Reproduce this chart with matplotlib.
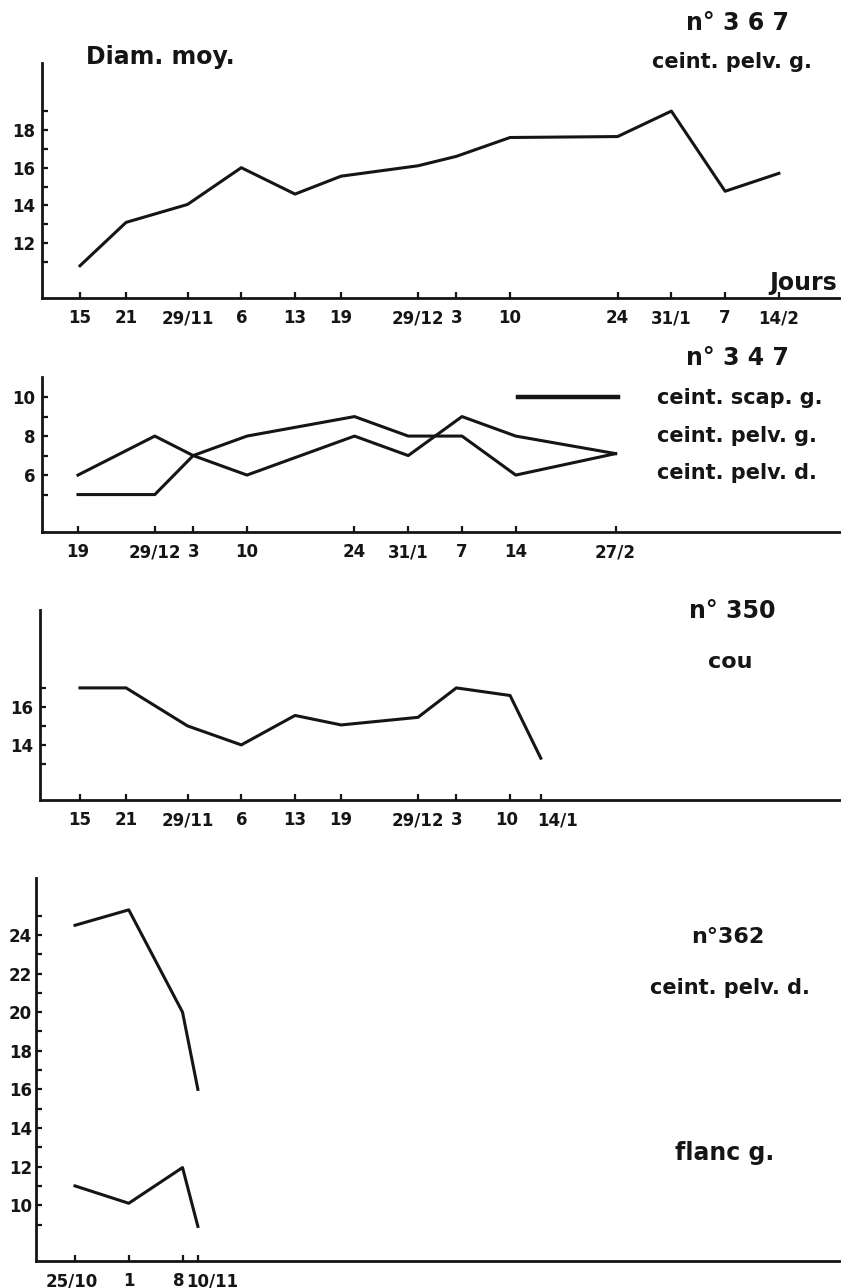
import matplotlib
matplotlib.use("Agg")
import matplotlib.pyplot as plt
import matplotlib.dates as mdates
import matplotlib.transforms as mtrans
from matplotlib.lines import Line2D
from matplotlib.ticker import FixedLocator, FixedFormatter, NullFormatter

# ---------------- data ----------------
# Panel 1 : n° 367, ceint. pelv. g.
p1_dates = ["1950-11-15", "1950-11-21", "1950-11-29", "1950-12-06", "1950-12-13",
            "1950-12-19", "1950-12-29", "1951-01-03", "1951-01-10", "1951-01-24",
            "1951-01-31", "1951-02-07", "1951-02-14"]
p1_labels = ["15", "21", "29/11", "6", "13", "19", "29/12", "3", "10", "24",
             "31/1", "7", "14/2"]
p1_values = [10.8, 13.1, 14.05, 16.0, 14.6, 15.55, 16.1, 16.6, 17.6, 17.65,
             19.0, 14.75, 15.7]
p1_yticks = [12, 14, 16, 18]
p1_yminor = [11, 13, 15, 17, 19]

# Panel 2 : n° 347
p2_dates = ["1950-12-19", "1950-12-29", "1951-01-03", "1951-01-10", "1951-01-24",
            "1951-01-31", "1951-02-07", "1951-02-14", "1951-02-27"]
p2_labels = ["19", "29/12", "3", "10", "24", "31/1", "7", "14", "27/2"]
p2_series_a = [6, 8, 7, 6, 8, 7, 9, 8, 7.1]
p2_series_b = [5, 5, 7, 8, 9, 8, 8, 6, 7.1]
p2_legend = ["ceint. scap. g.", "ceint. pelv. g.", "ceint. pelv. d."]
p2_yticks = [6, 8, 10]
p2_yminor = [5, 7, 9]

# Panel 3 : n° 350, cou
p3_dates = ["1950-11-15", "1950-11-21", "1950-11-29", "1950-12-06", "1950-12-13",
            "1950-12-19", "1950-12-29", "1951-01-03", "1951-01-10", "1951-01-14"]
p3_labels = ["15", "21", "29/11", "6", "13", "19", "29/12", "3", "10", "14/1"]
p3_values = [17.0, 17.0, 15.0, 14.0, 15.55, 15.05, 15.45, 17.0, 16.6, 13.3]
p3_yticks = [14, 16]
p3_yminor = [13, 15, 17]

# Panel 4 : n°362
p4_dates = ["1950-10-25", "1950-11-01", "1950-11-08", "1950-11-10"]
p4_labels = ["25/10", "1", "8", "10/11"]
p4_pelv_d = [24.5, 25.3, 20.0, 16.0]
p4_flanc_g = [11.0, 10.1, 11.95, 8.9]
p4_yticks = [10, 12, 14, 16, 18, 20, 22, 24]
p4_yminor = [9, 11, 13, 15, 17, 19, 21, 23, 25]

# ---------------- layout ----------------
W, H = 841, 1288
INK = "#151515"
PX_PER_DAY = 7.68
plt.rcParams["font.family"] = ["DejaVu Sans"]

fig = plt.figure(figsize=(W / 100, H / 100), dpi=100)
fig.patch.set_facecolor("white")


def fx(x):
    return x / W


def fy(y):
    return 1 - y / H


def make_axes(left, top, bottom, first_px, dates, labels, ylim, yticks, yminor, ylabpad=5):
    ax = fig.add_axes([fx(left), fy(bottom), (W - left) / W, (bottom - top) / H])
    ax.set_facecolor("none")
    xs = mdates.datestr2num(dates)
    x0 = xs[0] - (first_px - left) / PX_PER_DAY
    ax.set_xlim(x0, x0 + (W - left) / PX_PER_DAY)
    ax.set_ylim(*ylim)
    ax.xaxis.set_major_locator(FixedLocator(xs))
    ax.xaxis.set_major_formatter(FixedFormatter(labels))
    ax.yaxis.set_major_locator(FixedLocator(yticks))
    ax.yaxis.set_minor_locator(FixedLocator(yminor))
    ax.yaxis.set_minor_formatter(NullFormatter())
    for s in ("top", "right"):
        ax.spines[s].set_visible(False)
    for s in ("left", "bottom"):
        ax.spines[s].set_linewidth(2.0)
        ax.spines[s].set_color(INK)
    ax.tick_params(axis="y", which="both", direction="in", length=4, width=1.6,
                   color=INK, pad=ylabpad, labelsize=12, labelcolor=INK)
    ax.tick_params(axis="x", which="both", direction="in", length=4, width=1.6,
                   color=INK, pad=8, labelsize=12, labelcolor=INK)
    for lab in ax.get_xticklabels() + ax.get_yticklabels():
        lab.set_fontweight("bold")
    return ax, xs


def nudge_xlabel(ax, index, ha, dx_px):
    lab = ax.get_xticklabels()[index]
    lab.set_horizontalalignment(ha)
    lab.set_transform(lab.get_transform() +
                      mtrans.ScaledTranslation(dx_px / 100, 0, fig.dpi_scale_trans))


LW = 2.2

# Panel 1
ax1, x1 = make_axes(42, 63, 298, 80, p1_dates, p1_labels, (9.09, 21.55),
                    p1_yticks, p1_yminor)
ax1.plot(x1, p1_values, color=INK, lw=LW)

# Panel 2
ax2, x2 = make_axes(42, 377, 532, 78, p2_dates, p2_labels, (3.08, 11.03),
                    p2_yticks, p2_yminor)
ax2.plot(x2, p2_series_a, color=INK, lw=LW)
ax2.plot(x2, p2_series_b, color=INK, lw=LW)
handles = [Line2D([], [], color=INK, lw=3.2),
           Line2D([], [], color="none"),
           Line2D([], [], color="none")]
leg = ax2.legend(handles, p2_legend, loc="center left",
                 bbox_to_anchor=(fx(518), fy(436)), bbox_transform=fig.transFigure,
                 frameon=False, borderpad=0, borderaxespad=0,
                 handlelength=4.8, handletextpad=1.85, labelspacing=0.84,
                 prop={"size": 15, "weight": "bold"})
for t in leg.get_texts():
    t.set_color(INK)

# Panel 3
ax3, x3 = make_axes(40, 610, 800, 80, p3_dates, p3_labels, (11.1, 21.1),
                    p3_yticks, p3_yminor)
ax3.plot(x3, p3_values, color=INK, lw=LW)
nudge_xlabel(ax3, 9, "left", -4)
nudge_xlabel(ax3, 8, "center", -3)

# Panel 4
ax4, x4 = make_axes(36, 878, 1261, 75, p4_dates, p4_labels, (7.11, 26.95),
                    p4_yticks, p4_yminor, ylabpad=3)
ax4.plot(x4, p4_pelv_d, color=INK, lw=LW)
ax4.plot(x4, p4_flanc_g, color=INK, lw=LW)
nudge_xlabel(ax4, 0, "center", -3)
nudge_xlabel(ax4, 2, "right", 2)
nudge_xlabel(ax4, 3, "left", -12)

# ---------------- annotations ----------------
def label(x, y, s, size=17, ha="center"):
    fig.text(fx(x), fy(y), s, ha=ha, va="center", fontsize=size,
             fontweight="bold", color=INK)


label(86, 57, "Diam. moy.", 17, ha="left")
label(738, 23, "n° 3 6 7", 17)
label(732, 62, "ceint. pelv. g.", 15)
label(803, 283, "Jours", 17)

label(737, 358, "n° 3 4 7", 17)

label(732, 611, "n° 350", 17)
label(730, 662, "cou", 16)

label(728, 937, "n°362", 16)
label(730, 988, "ceint. pelv. d.", 15)
label(725, 1153, "flanc g.", 17)

fig.savefig("out.png", dpi=100, facecolor="white")
